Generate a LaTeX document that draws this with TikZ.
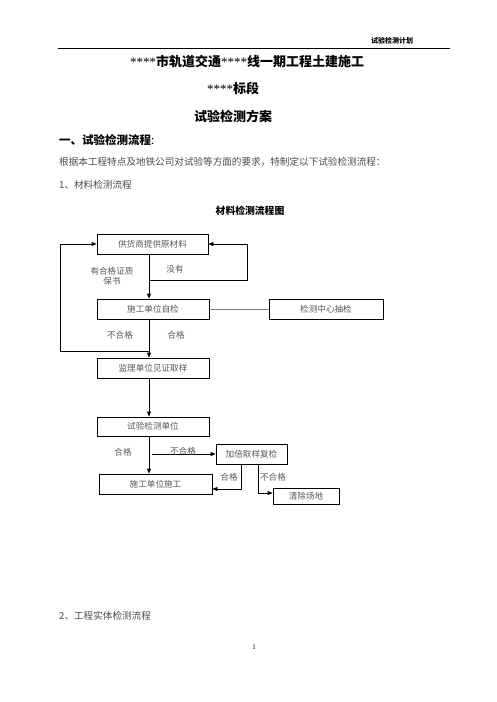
\documentclass[tikz,border=0pt]{standalone}
\usepackage{fontspec}
\setmainfont{Liberation Serif}
\newfontfamily\cjk{Noto Sans CJK SC}
\newcommand{\stars}{{\rmfamily\mdseries ****}}
\usetikzlibrary{arrows.meta,calc}
\begin{document}
\begin{tikzpicture}[x=1pt,y=-1pt,
  font=\cjk,
  box/.style={draw=black,line width=0.8pt,minimum height=20pt,inner sep=0pt,
    font=\cjk\fontsize{8.6}{9}\selectfont,text=black!65},
  arr/.style={line width=0.8pt,-{Triangle[length=5pt,width=4pt]}},
  link/.style={line width=0.8pt,draw=black!50},
  lbl/.style={font=\cjk\fontsize{8.6}{10.5}\selectfont,text=black!65,inner sep=0pt,align=center},
  body/.style={font=\cjk\fontsize{9.6}{11}\selectfont,text=black!70,anchor=west,inner sep=0pt}]
\useasboundingbox (0,0) rectangle (496,702);
\fill[white] (0,0) rectangle (496,702);

% running header
\node[font=\cjk\bfseries\fontsize{7}{8}\selectfont,inner sep=0pt] (hdr) at (392,41) {试验检测计划};
\coordinate (hl) at (58,48);
\coordinate (hr) at (450,48);
\draw[line width=0.8pt] (hl) -- (hr);

% titles
\node[font=\cjk\bfseries\fontsize{13}{15}\selectfont,inner sep=0pt] (t1) at (247,62) {\stars 市轨道交通\stars 线一期工程土建施工};
\node[font=\cjk\bfseries\fontsize{13}{15}\selectfont,inner sep=0pt] (t2) at (233,88) {\stars 标段};
\node[font=\cjk\bfseries\fontsize{13}{15}\selectfont,inner sep=0pt] (t3) at (233,116) {试验检测方案};
\node[font=\cjk\bfseries\fontsize{11.5}{13}\selectfont,anchor=west,inner sep=0pt] (s1) at (59,140) {一、试验检测流程\textmd{:}};
\node[body] (p1) at (59,162) {根据本工程特点及地铁公司对试验等方面的要求，特制定以下试验检测流程：};
\node[body] (p2) at (59,185) {1、材料检测流程};
\node[font=\cjk\bfseries\fontsize{9.8}{11}\selectfont,inner sep=0pt] (cap) at (250,211) {材料检测流程图};

% flow chart boxes
\node[box,minimum width=111pt] (sup) at (152.5,244) {供货商提供原材料};
\node[box,minimum width=112pt] (self) at (153,309) {施工单位自检};
\node[box,minimum width=114pt] (lab) at (326,309) {检测中心抽检};
\node[box,minimum width=112pt] (sv) at (153,368) {监理单位见证取样};
\node[box,minimum width=112pt,minimum height=19pt] (test) at (153,426.5) {试验检测单位};
\node[box,minimum width=113pt] (build) at (155.5,484) {施工单位施工};
\node[box,minimum width=71pt] (retest) at (251.5,454) {加倍取样复检};
\node[box,minimum width=66pt,minimum height=16pt] (clear) at (306,496) {清除场地};

% guide coordinates
\coordinate (mx) at (149,0);
\coordinate (rx) at (247,0);
\coordinate (lx) at (60,0);
\coordinate (n1) at (149,280);
\coordinate (n2) at (149,351);
\coordinate (n3) at (152,454);
\coordinate (gx) at (241,0);
\coordinate (bx) at (258,0);

% connectors
\draw[arr] (sup.south -| mx) -- (self.north -| mx);
\draw[arr] (n1) -- (n1 -| rx) |- (sup.east);
\draw[link] (self.east) -- (lab.west);
\draw[arr] (self.south -| mx) -- (sv.north -| mx);
\draw[arr] (n2) -- (n2 -| lx) |- (sup.west);
\draw[arr] (sv.south -| mx) -- (test.north -| mx);
\draw[arr] (test.south -| mx) -- (build.north -| mx);
\draw[arr] (n3) -- (retest.west);
\draw[arr] (retest.south -| gx) |- ($(build.east)+(0,5)$);
\draw[arr] (retest.south -| bx) |- ($(clear.west)+(0,-3)$);

% connector labels
\node[lbl] (l1) at (112,276) {有合格证质\\保书};
\node[lbl] (l2) at (175,269) {没有};
\node[lbl] (l3) at (120,335) {不合格};
\node[lbl] (l4) at (176,335) {合格};
\node[lbl] (l5) at (123,452) {合格};
\node[lbl] (l6) at (183,451) {不合格};
\node[lbl] (l7) at (229,477) {合格};
\node[lbl] (l8) at (273,477) {不合格};

% next section and page number
\node[body] (p3) at (59,616) {2、工程实体检测流程};
\node[font=\fontsize{7}{8}\selectfont,inner sep=0pt] (pg) at (254,647) {1};
\end{tikzpicture}
\end{document}
